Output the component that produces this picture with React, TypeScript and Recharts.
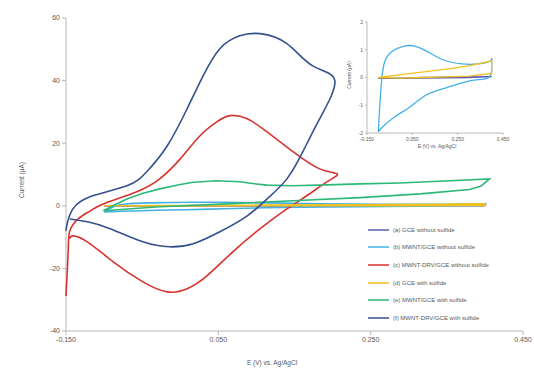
import React from "react";
import { ScatterChart, Scatter, XAxis, YAxis, Legend } from "recharts";

// cyclic voltammograms, [E (V), I (uA)] in scan order
const curveA: [number, number][] = [
  [-0.1, -0.03], [0.0, -0.02], [0.1, 0.0], [0.2, 0.01], [0.3, 0.02], [0.4, 0.03],
  [0.3, 0.0], [0.2, -0.01], [0.1, -0.02], [0.0, -0.03], [-0.1, -0.03],
];
const curveB: [number, number][] = [
  [-0.1, -1.96], [-0.093, -0.94], [-0.085, -0.07], [-0.072, 0.57], [-0.04, 0.94],
  [0.015, 1.13], [0.06, 1.13], [0.115, 0.94], [0.185, 0.64], [0.27, 0.49],
  [0.34, 0.49], [0.395, 0.6], [0.4, 0.64], [0.395, 0.08], [0.34, -0.08],
  [0.27, -0.19], [0.195, -0.38], [0.11, -0.64], [0.04, -1.06], [-0.03, -1.43],
  [-0.085, -1.81], [-0.1, -1.96],
];
const curveC: [number, number][] = [
  [-0.15, -28.8], [-0.147, -13.7], [-0.145, -8.0], [-0.134, -4.2], [-0.118, -1.6],
  [-0.101, 0.6], [-0.057, 4.5], [-0.027, 8.6], [0.0, 15.0], [0.026, 22.4],
  [0.048, 26.8], [0.065, 28.8], [0.088, 27.8], [0.114, 23.6], [0.148, 17.3],
  [0.183, 11.8], [0.206, 10.2], [0.193, 7.7], [0.166, 3.2], [0.14, -1.0],
  [0.105, -7.3], [0.069, -14.7], [0.035, -22.4], [0.009, -26.5], [-0.017, -27.5],
  [-0.049, -24.3], [-0.088, -17.9], [-0.122, -11.5], [-0.141, -9.6], [-0.145, -10.5],
];
const curveD: [number, number][] = [
  [-0.1, 0.0], [0.0, 0.1], [0.1, 0.2], [0.2, 0.3], [0.3, 0.42], [0.4, 0.6],
  [0.4, 0.15], [0.3, 0.05], [0.2, 0.02], [0.1, 0.0], [0.0, -0.02], [-0.1, 0.0],
];
const curveE: [number, number][] = [
  [-0.101, -1.6], [-0.085, 0.4], [-0.07, 2.2], [-0.05, 3.9], [-0.027, 5.4],
  [0.0, 6.8], [0.017, 7.5], [0.048, 8.0], [0.078, 7.7], [0.095, 7.1],
  [0.114, 6.6], [0.148, 6.4], [0.193, 6.7], [0.236, 7.0], [0.288, 7.3],
  [0.354, 8.0], [0.406, 8.6], [0.395, 6.3], [0.38, 5.2], [0.315, 3.8],
  [0.236, 2.6], [0.148, 1.6], [0.061, 0.6], [-0.027, -0.3], [-0.101, -1.6],
];
const curveF: [number, number][] = [
  [-0.15, -8.0], [-0.149, -6.4], [-0.141, -1.0], [-0.115, 3.2], [-0.07, 6.4],
  [-0.044, 10.9], [-0.017, 19.2], [0.009, 31.0], [0.03, 41.5], [0.052, 50.2],
  [0.078, 54.3], [0.105, 55.0], [0.14, 51.8], [0.174, 44.7], [0.203, 39.9],
  [0.183, 27.8], [0.161, 17.3], [0.14, 8.6], [0.114, 2.2], [0.088, -3.2],
  [0.052, -8.3], [0.017, -12.1], [-0.014, -13.1], [-0.049, -11.5], [-0.092, -7.3],
  [-0.122, -5.1], [-0.145, -4.2],
];

const seriesNames = [
  "(a) GCE without sulfide",
  "(b) MWNT/GCE without sulfide",
  "(c) MWNT-DRV/GCE without sulfide",
  "(d) GCE with sulfide",
  "(e) MWNT/GCE with sulfide",
  "(f) MWNT-DRV/GCE with sulfide",
];
const seriesColors = ["#5b5bb5", "#45b0e5", "#d9322e", "#f2c01f", "#2eb877", "#34508f"];
const seriesCurves = [curveA, curveB, curveC, curveD, curveE, curveF];
const seriesJoint = ["linear", "natural", "natural", "linear", "linear", "natural"];

const xTicks = [-0.15, 0.05, 0.25, 0.45];
const yTicks = [-40, -20, 0, 20, 40, 60];
const insetYTicks = [-2, -1, 0, 1, 2];
const insetSeries = [0, 1, 3];

const toPoints = (c: [number, number][]) => c.map(([x, y]) => ({ x, y }));
const font = "'Liberation Sans', Arial, sans-serif";
const axisColor = "#b8b8b8";
const textColor = "#595959";
const noDot = () => <g />;

function LegendBox() {
  return (
    <div style={{ fontFamily: font, fontSize: 6, color: textColor }}>
      {seriesNames.map((n, i) => (
        <div key={n} style={{ height: 17.6, display: "flex", alignItems: "center" }}>
          <svg width={22} height={4} style={{ marginRight: 3 }}>
            <line x1={0} y1={2} x2={21} y2={2} stroke={seriesColors[i]} strokeWidth={1.5} />
          </svg>
          <span>{n}</span>
        </div>
      ))}
    </div>
  );
}

export default function App() {
  return (
    <div style={{ position: "absolute", left: 0, top: 0, width: 534, height: 369, background: "#fff" }}>
      <ScatterChart width={534} height={369} margin={{ top: 18, right: 11, bottom: 18, left: 26 }}>
        <XAxis
          type="number"
          dataKey="x"
          domain={[-0.15, 0.45]}
          ticks={xTicks}
          tickFormatter={(v: number) => v.toFixed(3)}
          height={20}
          stroke={axisColor}
          tickSize={4}
          tick={{ fontSize: 7, fill: textColor, fontFamily: font }}
        />
        <YAxis
          type="number"
          dataKey="y"
          domain={[-40, 60]}
          ticks={yTicks}
          width={40}
          stroke={axisColor}
          tickSize={4}
          tick={{ fontSize: 7, fill: textColor, fontFamily: font }}
        />
        <Legend
          layout="vertical"
          align="center"
          verticalAlign="middle"
          wrapperStyle={{ left: 368, top: 221, width: 166 }}
          content={() => <LegendBox />}
        />
        {seriesCurves.map((c, i) => (
          <Scatter
            key={seriesNames[i]}
            name={seriesNames[i]}
            data={toPoints(c)}
            line={{ stroke: seriesColors[i], strokeWidth: 1.6 }}
            lineJointType={seriesJoint[i] as any}
            shape={noDot}
            legendType="plainline"
            isAnimationActive={false}
          />
        ))}
      </ScatterChart>

      <div style={{ position: "absolute", left: 21, top: 180, transform: "translate(-50%,-50%) rotate(-90deg)", whiteSpace: "nowrap", fontFamily: font, fontSize: 6.5, color: textColor }}>
        Current (µA)
      </div>
      <div style={{ position: "absolute", left: 272, top: 362, transform: "translate(-50%,-50%)", whiteSpace: "nowrap", fontFamily: font, fontSize: 6.5, color: textColor }}>
        E (V) vs. Ag/AgCl
      </div>

      <div style={{ position: "absolute", left: 340, top: 5, width: 194, height: 150, background: "#fff" }}>
        <ScatterChart width={194} height={150} margin={{ top: 17, right: 31, bottom: 8, left: 10 }}>
          <XAxis
            type="number"
            dataKey="x"
            domain={[-0.15, 0.45]}
            ticks={xTicks}
            tickFormatter={(v: number) => v.toFixed(3)}
            height={14}
            stroke={axisColor}
            tickSize={2}
            tick={{ fontSize: 5, fill: textColor, fontFamily: font }}
          />
          <YAxis
            type="number"
            dataKey="y"
            domain={[-2, 2]}
            ticks={insetYTicks}
            width={17}
            stroke={axisColor}
            tickSize={2}
            tick={{ fontSize: 5, fill: textColor, fontFamily: font }}
          />
          {insetSeries.map((i) => (
            <Scatter
              key={seriesNames[i]}
              name={seriesNames[i]}
              data={toPoints(seriesCurves[i])}
              line={{ stroke: seriesColors[i], strokeWidth: 1.3 }}
              lineJointType={seriesJoint[i] as any}
              shape={noDot}
              isAnimationActive={false}
            />
          ))}
        </ScatterChart>
        <div style={{ position: "absolute", left: 9, top: 70, transform: "translate(-50%,-50%) rotate(-90deg)", whiteSpace: "nowrap", fontFamily: font, fontSize: 5, color: textColor }}>
          Current (µA)
        </div>
        <div style={{ position: "absolute", left: 97, top: 141, transform: "translate(-50%,-50%)", whiteSpace: "nowrap", fontFamily: font, fontSize: 5, color: textColor }}>
          E (V) vs. Ag/AgCl
        </div>
      </div>
    </div>
  );
}
